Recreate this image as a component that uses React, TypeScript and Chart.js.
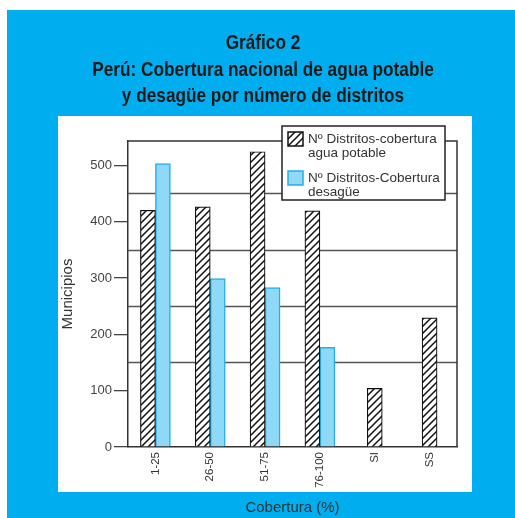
import React, { useEffect, useRef } from 'react';
import { Chart, registerables } from 'chart.js';

Chart.register(...registerables);

const TITLE_LINES = [
  'Gráfico 2',
  'Perú: Cobertura nacional de agua potable',
  'y desagüe por número de distritos',
];
const CATEGORIES = ['1-25', '26-50', '51-75', '76-100', 'SI', 'SS'];
const AGUA = [420, 426, 524, 419, 104, 229];
const DESAGUE: (number | null)[] = [503, 299, 283, 177, null, null];
const SERIES_LABELS = [
  ['Nº Distritos-cobertura', 'agua potable'],
  ['Nº Distritos-Cobertura', 'desagüe'],
];
const Y_TICKS = [0, 100, 200, 300, 400, 500];
const GRID_VALUES = [150, 250, 350, 450];
const Y_MAX = 543;
const X_TITLE = 'Cobertura (%)';
const Y_TITLE = 'Municipios';

const BLUE = '#00AEEF';
const SANS = '"Liberation Sans", Arial, sans-serif';

const bgPlugin = {
  id: 'bgPanel',
  beforeDraw(chart: any) {
    const { ctx, width, height, chartArea: ca } = chart;
    ctx.save();
    ctx.fillStyle = '#fff';
    ctx.fillRect(0, 0, width, height);
    ctx.fillStyle = BLUE;
    ctx.fillRect(7, 10, width - 7, height - 10);
    ctx.fillStyle = '#fff';
    const l = ca.left - 70, t = ca.top - 25, r = ca.right + 15, b = ca.bottom + 45;
    ctx.fillRect(l, t, r - l, b - t);
    ctx.restore();
  },
};

const titlePlugin = {
  id: 'condensedTitle',
  afterDraw(chart: any) {
    const { ctx, chartArea: ca } = chart;
    ctx.save();
    ctx.fillStyle = '#1a1a1a';
    ctx.font = `bold 21px ${SANS}`;
    ctx.textAlign = 'center';
    ctx.textBaseline = 'alphabetic';
    const cx = ca.left + 135;
    TITLE_LINES.forEach((line, i) => {
      ctx.save();
      ctx.translate(cx, ca.top - 92 + i * 26.5);
      ctx.scale(0.82, 1);
      ctx.fillText(line, 0, 0);
      ctx.restore();
    });
    ctx.restore();
  },
};

const gridFramePlugin = {
  id: 'gridFrame',
  beforeDatasetsDraw(chart: any) {
    const { ctx, chartArea: ca, scales } = chart;
    ctx.save();
    ctx.strokeStyle = '#555';
    ctx.lineWidth = 1.3;
    GRID_VALUES.forEach((v) => {
      const y = Math.round(scales.y.getPixelForValue(v)) + 0.5;
      ctx.beginPath();
      ctx.moveTo(ca.left, y);
      ctx.lineTo(ca.right, y);
      ctx.stroke();
    });
    ctx.strokeStyle = '#333';
    ctx.lineWidth = 1.5;
    ctx.beginPath();
    ctx.moveTo(ca.left, ca.top);
    ctx.lineTo(ca.right, ca.top);
    ctx.lineTo(ca.right, ca.bottom);
    ctx.stroke();
    ctx.restore();
  },
};

const legendPlugin = {
  id: 'boxLegend',
  afterDraw(chart: any) {
    const { ctx, chartArea: ca } = chart;
    const w = 163, h = 74;
    const right = ca.right - 12, top = ca.top - 15, left = right - w;
    ctx.save();
    ctx.fillStyle = '#fff';
    ctx.fillRect(left, top, w, h);
    ctx.strokeStyle = '#222';
    ctx.lineWidth = 1.5;
    ctx.strokeRect(left, top, w, h);
    ctx.font = `13.5px ${SANS}`;
    ctx.textBaseline = 'alphabetic';
    ctx.textAlign = 'left';
    chart.data.datasets.forEach((ds: any, i: number) => {
      const sy = top + 6 + i * 39;
      ctx.fillStyle = ds.backgroundColor;
      ctx.fillRect(left + 6, sy, 15, 14);
      ctx.strokeStyle = ds.borderColor;
      ctx.lineWidth = 1.5;
      ctx.strokeRect(left + 6, sy, 15, 14);
      ctx.fillStyle = '#333';
      String(ds.label)
        .split('\n')
        .forEach((line: string, j: number) => {
          ctx.fillText(line, left + 26, top + 17 + i * 39 + j * 14);
        });
    });
    ctx.restore();
  },
};

export default function App() {
  const ref = useRef<HTMLCanvasElement | null>(null);

  useEffect(() => {
    document.body.style.margin = '0';
    const canvas = ref.current;
    if (!canvas) return;
    const ctx = canvas.getContext('2d')!;

    const tile = document.createElement('canvas');
    const P = 7;
    tile.width = P;
    tile.height = P;
    const t = tile.getContext('2d')!;
    t.fillStyle = '#fff';
    t.fillRect(0, 0, P, P);
    t.strokeStyle = '#111';
    t.lineWidth = 1.5;
    t.beginPath();
    t.moveTo(0, P);
    t.lineTo(P, 0);
    t.moveTo(-1, 1);
    t.lineTo(1, -1);
    t.moveTo(P - 1, P + 1);
    t.lineTo(P + 1, P - 1);
    t.stroke();
    const pattern = ctx.createPattern(tile, 'repeat');

    const chart = new Chart(ctx, {
      type: 'bar',
      data: {
        labels: CATEGORIES,
        datasets: [
          {
            label: SERIES_LABELS[0].join('\n'),
            data: AGUA,
            backgroundColor: pattern as any,
            borderColor: '#111',
            borderWidth: 1.2,
            barThickness: 15,
            skipNull: true,
          } as any,
          {
            label: SERIES_LABELS[1].join('\n'),
            data: DESAGUE,
            backgroundColor: '#8FD8F6',
            borderColor: '#22B0E6',
            borderWidth: 1.5,
            barThickness: 15,
            skipNull: true,
          } as any,
        ],
      },
      options: {
        animation: false,
        responsive: false,
        devicePixelRatio: 1,
        events: [],
        layout: { padding: { left: 69, right: 58, top: 141, bottom: 0 } },
        plugins: {
          legend: { display: false },
          tooltip: { enabled: false },
          title: { display: false },
        },
        scales: {
          x: {
            type: 'category',
            grid: { display: false, drawTicks: false },
            border: { display: true, color: '#333', width: 1.5 },
            ticks: {
              color: '#333',
              font: { family: SANS, size: 11.5 },
              maxRotation: 90,
              minRotation: 90,
              padding: 5,
              autoSkip: false,
            },
            title: {
              display: true,
              text: X_TITLE,
              color: '#333',
              font: { family: SANS, size: 15 },
              padding: { top: 0, bottom: 1 },
            },
            afterFit(s: any) {
              s.height = 71;
            },
          },
          y: {
            min: 0,
            max: Y_MAX,
            afterBuildTicks(s: any) {
              s.ticks = Y_TICKS.map((v) => ({ value: v }));
            },
            grid: {
              drawOnChartArea: false,
              drawTicks: true,
              tickLength: 14,
              color: '#444',
              lineWidth: 1.3,
            },
            border: { display: true, color: '#333', width: 1.5 },
            ticks: { color: '#444', font: { family: SANS, size: 13 }, padding: 2 },
            title: {
              display: true,
              text: Y_TITLE,
              color: '#333',
              font: { family: SANS, size: 15 },
              padding: { top: -10, bottom: 0 },
            },
            afterFit(s: any) {
              s.width = 59;
            },
          },
        },
      } as any,
      plugins: [bgPlugin, gridFramePlugin, legendPlugin, titlePlugin],
    });

    return () => chart.destroy();
  }, []);

  return (
    <div style={{ position: 'fixed', left: 0, top: 0, width: 515, height: 518 }}>
      <canvas ref={ref} width={515} height={518} style={{ display: 'block' }} />
    </div>
  );
}
